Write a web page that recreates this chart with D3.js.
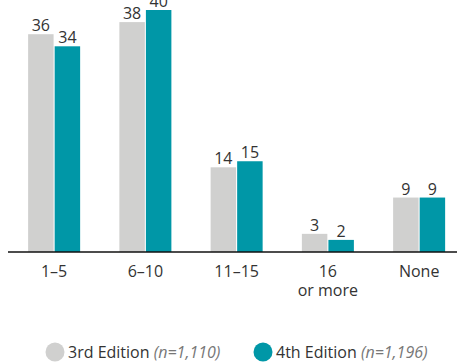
<!DOCTYPE html>
<html>
<head>
<meta charset="utf-8">
<script src="https://cdn.jsdelivr.net/npm/d3@7"></script>
<style>
  html, body { margin: 0; padding: 0; background: #fff; }
  svg { display: block; font-family: "Open Sans", sans-serif; }
</style>
</head>
<body>
<svg id="chart" width="461" height="362"></svg>
<script>
// Number of items per category, by edition
const categories = ["1–5", "6–10", "11–15", "16\nor more", "None"];
const series = ["3rd Edition", "4th Edition"];
const sampleSizes = ["(n=1,110)", "(n=1,196)"];
const thirdEdition = [36, 38, 14, 3, 9];
const fourthEdition = [34, 40, 15, 2, 9];
const colors = ["#d0d0cf", "#0097a7"];

const svg = d3.select("#chart");
const baseline = 252;

const x = d3.scaleBand()
  .domain(categories)
  .range([8.5, 464.75])
  .paddingInner(0.43)
  .paddingOuter(0.215);

const xSub = d3.scaleBand()
  .domain(series)
  .range([0, x.bandwidth()])
  .paddingInner(0.04);

const y = d3.scaleLinear().domain([0, 40]).range([baseline, 10]);

const values = [thirdEdition, fourthEdition];

const groups = svg.selectAll("g.group")
  .data(categories)
  .join("g")
  .attr("class", "group")
  .attr("transform", d => `translate(${x(d)},0)`);

groups.each(function (cat, i) {
  const g = d3.select(this);
  series.forEach((s, j) => {
    const v = values[j][i];
    g.append("rect")
      .attr("x", xSub(s))
      .attr("y", y(v))
      .attr("width", xSub.bandwidth())
      .attr("height", baseline - y(v))
      .attr("fill", colors[j]);
    g.append("text")
      .attr("x", xSub(s) + xSub.bandwidth() / 2)
      .attr("y", y(v) - 3)
      .attr("text-anchor", "middle")
      .attr("font-size", 16)
      .attr("fill", "#333")
      .text(v);
  });
});

// Baseline
svg.append("line")
  .attr("x1", 8).attr("x2", 457)
  .attr("y1", baseline).attr("y2", baseline)
  .attr("stroke", "#111").attr("stroke-width", 1.5);

// Category labels
const xAxis = svg.append("g");
categories.forEach(cat => {
  const t = xAxis.append("text")
    .attr("text-anchor", "middle")
    .attr("font-size", 16)
    .attr("fill", "#333");
  cat.split("\n").forEach((line, k) => {
    t.append("tspan")
      .attr("x", x(cat) + x.bandwidth() / 2)
      .attr("y", 277 + k * 19)
      .text(line);
  });
});

// Legend
const legendX = [55, 263];
series.forEach((s, j) => {
  const lg = svg.append("g").attr("transform", `translate(${legendX[j]},352)`);
  lg.append("circle").attr("r", 9.5).attr("fill", colors[j]);
  const t = lg.append("text")
    .attr("x", 13)
    .attr("y", 5.5)
    .attr("font-size", 16)
    .attr("fill", "#333");
  t.append("tspan").text(s + " ");
  t.append("tspan").attr("font-style", "italic").attr("fill", "#777").text(sampleSizes[j]);
});
</script>
</body>
</html>
